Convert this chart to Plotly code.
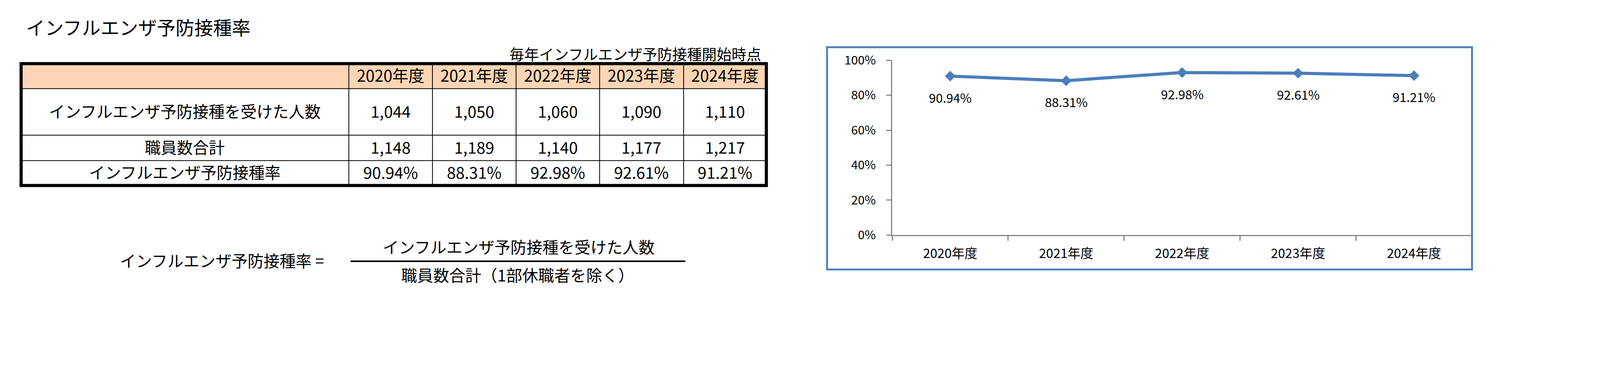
import plotly.graph_objects as go

W, H = 4240, 972

years = ["2020年度", "2021年度", "2022年度", "2023年度", "2024年度"]
vaccinated = [1044, 1050, 1060, 1090, 1110]
staff = [1148, 1189, 1140, 1177, 1217]
rate = [90.94, 88.31, 92.98, 92.61, 91.21]

row_labels = ["インフルエンザ予防接種を受けた人数", "職員数合計", "インフルエンザ予防接種率"]

FONT = "Noto Sans CJK JP"
BLUE = "#4A7EBB"
GREY = "#868686"
PEACH = "#FCD5B4"

# positions below are measured on the reference picture; the page renders a bit
# wider and lower than that, so map them before use
SX, OX, OY = 0.965, -8, -29


def px(x):
    return (x * SX + OX) / W


def py(y):
    return 1 - (y + OY) / H


# table layout: column widths and row heights as in the sheet
col_w = [869, 222, 222, 222, 222, 220]
row_h = [67, 125, 68, 67]
col_edges = [sum(col_w[:i]) for i in range(len(col_w) + 1)]
row_edges = [sum(row_h[:i]) for i in range(len(row_h) + 1)]
TX0, TY0 = 56, 165
TX1, TY1 = TX0 + col_edges[-1], TY0 + row_edges[-1]

cell_text = [
    [""] + years,
    [row_labels[0]] + [f"{v:,}" for v in vaccinated],
    [row_labels[1]] + [f"{v:,}" for v in staff],
    [row_labels[2]] + [f"{r:.2f}%" for r in rate],
]
cell_fill = [[0] * 6, [1] * 6, [1] * 6, [1] * 6]

fig = go.Figure()

# table drawn as a heatmap; the gaps between bricks show the black rect below
fig.add_trace(go.Heatmap(
    x=col_edges, y=row_edges, z=cell_fill,
    colorscale=[[0, PEACH], [1, "white"]], zmin=0, zmax=1, showscale=False,
    text=cell_text, texttemplate="%{text}",
    textfont=dict(family=FONT, size=41, color="black"),
    xgap=2, ygap=2, hoverinfo="skip",
    xaxis="x2", yaxis="y2",
))

# line chart
yr = [r / 100 for r in rate]
fig.add_trace(go.Scatter(
    x=years, y=yr, mode="lines+markers",
    line=dict(color=BLUE, width=8),
    marker=dict(symbol="diamond", size=21, color=BLUE),
    hoverinfo="skip", showlegend=False,
))

for x, y, r in zip(years, yr, rate):
    fig.add_annotation(x=x, y=y, xref="x", yref="y", text=f"{r:.2f}%",
                       showarrow=False, yshift=-54,
                       font=dict(family=FONT, size=32, color="black"))

fig.update_layout(
    xaxis=dict(
        type="category", domain=[px(2367), px(3905)], range=[-0.5, 4.5],
        showline=True, linecolor=GREY, linewidth=3,
        ticks="outside", tickson="boundaries", ticklen=12, tickwidth=3, tickcolor=GREY,
        ticklabelstandoff=16,
        tickfont=dict(family=FONT, size=33, color="black"),
        showgrid=False, zeroline=False, fixedrange=True,
    ),
    yaxis=dict(
        domain=[py(625), py(156)], range=[0, 1], dtick=0.2, tickformat=".0%",
        showline=True, linecolor=GREY, linewidth=3,
        ticks="outside", ticklen=12, tickwidth=3, tickcolor=GREY,
        ticklabelstandoff=21,
        tickfont=dict(family=FONT, size=31, color="black"),
        showgrid=False, zeroline=False, fixedrange=True,
    ),
    xaxis2=dict(domain=[px(TX0), px(TX1)], range=[0, col_edges[-1]],
                visible=False, fixedrange=True, anchor="y2"),
    yaxis2=dict(domain=[py(TY1), py(TY0)], range=[row_edges[-1], 0],
                visible=False, fixedrange=True, anchor="x2"),
)

shapes = [
    # grid colour under the table bricks
    dict(type="rect", xref="paper", yref="paper", layer="below",
         x0=px(TX0), x1=px(TX1), y0=py(TY1), y1=py(TY0),
         fillcolor="black", line=dict(width=0)),
    # thick table frame
    dict(type="rect", xref="paper", yref="paper",
         x0=px(TX0), x1=px(TX1), y0=py(TY1), y1=py(TY0),
         line=dict(color="black", width=8)),
    # chart frame
    dict(type="rect", xref="paper", yref="paper",
         x0=px(2194), x1=px(3905), y0=py(717), y1=py(121),
         line=dict(color="#4F81BD", width=5)),
    # fraction bar
    dict(type="line", xref="paper", yref="paper",
         x0=px(930), x1=px(1818), y0=py(695), y1=py(695),
         line=dict(color="black", width=4)),
]

texts = [
    dict(text="インフルエンザ予防接種率", x=67, y=66, size=48, xanchor="left"),
    dict(text="毎年インフルエンザ予防接種開始時点", x=2022, y=137, size=38, xanchor="right"),
    dict(text="インフルエンザ予防接種率 =", x=862, y=692, size=41, xanchor="right"),
    dict(text="インフルエンザ予防接種を受けた人数", x=1376, y=655, size=41, xanchor="center"),
    dict(text="職員数合計（1部休職者を除く）", x=1374, y=730, size=41, xanchor="center"),
]
for t in texts:
    fig.add_annotation(text=t["text"], x=px(t["x"]), y=py(t["y"]),
                       xref="paper", yref="paper", showarrow=False,
                       xanchor=t["xanchor"], yanchor="middle",
                       font=dict(family=FONT, size=t["size"], color="black"))

fig.update_layout(
    width=W, height=H, autosize=False,
    margin=dict(l=0, r=0, t=0, b=0),
    paper_bgcolor="white", plot_bgcolor="white",
    shapes=shapes, showlegend=False,
)

fig.write_html("out.html")
